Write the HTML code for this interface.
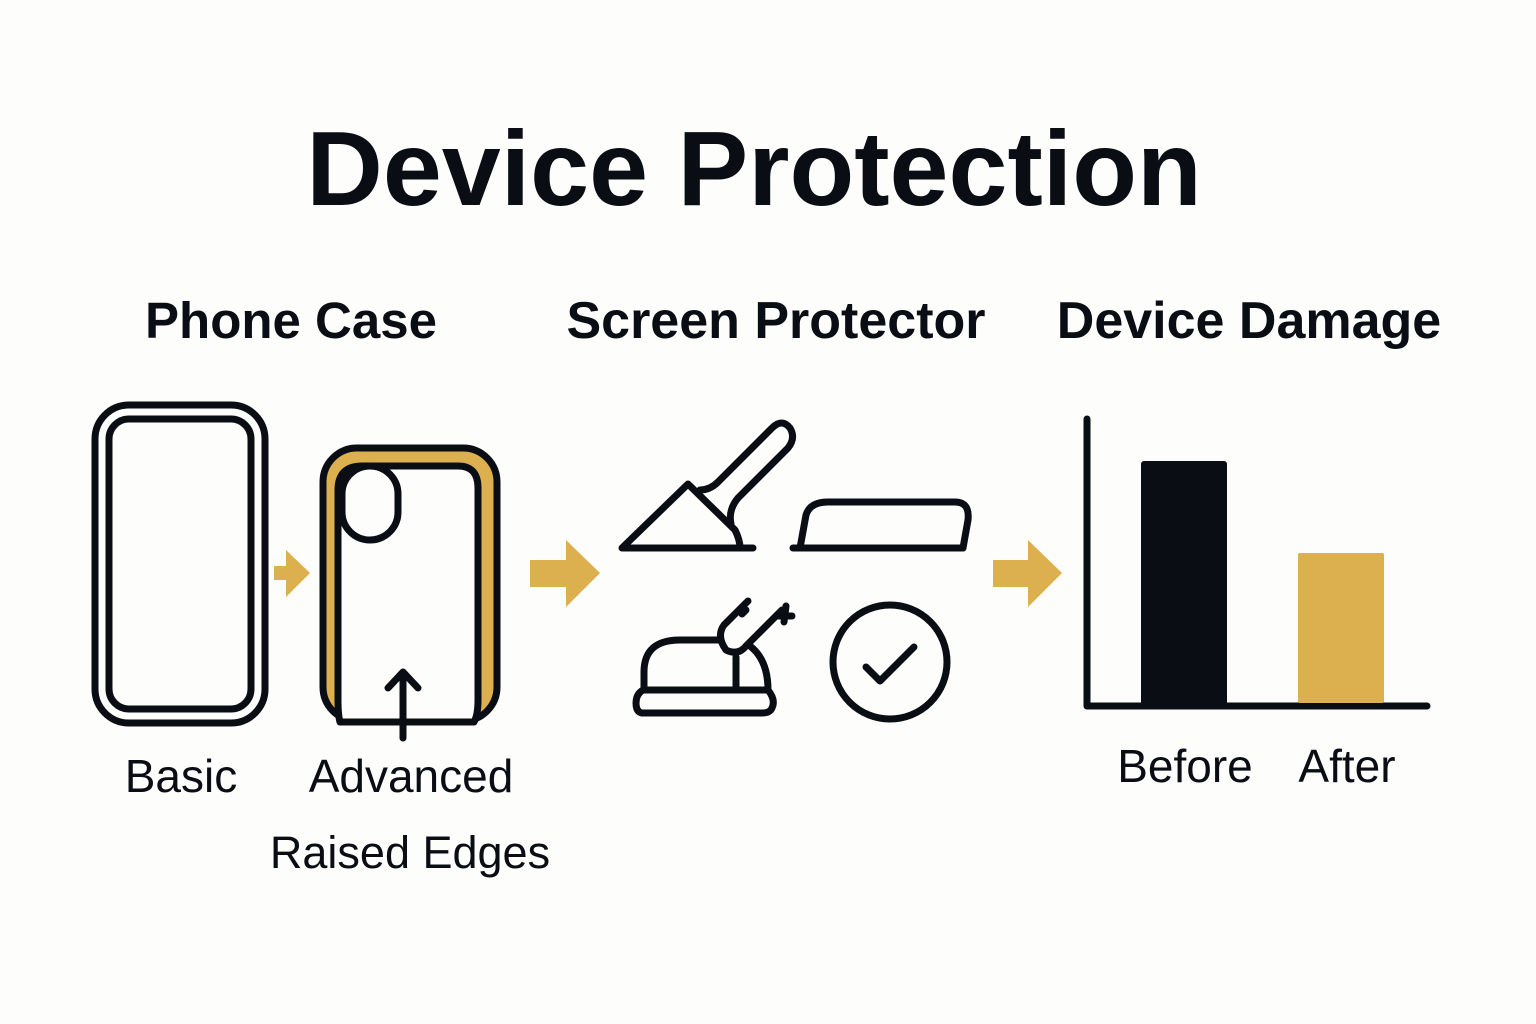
<!DOCTYPE html>
<html><head><meta charset="utf-8"><style>
html,body{margin:0;padding:0;background:#fdfdfc;}
svg{display:block}
text{font-family:"Liberation Sans",sans-serif;fill:#0a0e14}
</style></head><body>
<svg width="1536" height="1024" viewBox="0 0 1536 1024" xmlns="http://www.w3.org/2000/svg">
<rect width="1536" height="1024" fill="#fdfdfc"/>
<text x="754" y="205" font-size="106" font-weight="bold" text-anchor="middle">Device Protection</text>
<text x="291" y="338" font-size="51" font-weight="bold" text-anchor="middle">Phone Case</text>
<text x="776" y="338" font-size="52" font-weight="bold" text-anchor="middle">Screen Protector</text>
<text x="1249" y="338" font-size="52" font-weight="bold" text-anchor="middle">Device Damage</text>

<g fill="none" stroke="#0a0e14" stroke-width="7" stroke-linecap="round" stroke-linejoin="round">
<rect x="95" y="405" width="170" height="318" rx="34"/>
<rect x="109" y="419" width="142" height="290" rx="20"/>
<rect x="323" y="448" width="174" height="273" rx="34" fill="#ddb04f"/>
<path d="M340 722 Q338 715 338 700 L338 490 Q338 466 362 466 L458 466 Q478 466 478 488 L478 700 Q478 715 474 722 Z" fill="#fdfdfc"/>
<rect x="342" y="466" width="56" height="74" rx="28" fill="#fdfdfc"/>
<path d="M403 738 L403 672 M388 688 L403 672 L418 688"/>
<path d="M622 548 L688 484 L735 530 Q740 540 740 548 M622 548 L753 548"/>
<path d="M700 490 Q710 490 718 482 L772 428 Q782 418 790 428 Q796 438 788 448 L738 498 Q728 510 731 524"/>
<path d="M793 548 L963 548 L968 520 Q970 502 955 502 L828 502 Q810 502 806 515 L800 548"/>
<path d="M644 690 L644 672 Q644 640 680 640 L720 640"/>
<path d="M750 646 Q768 660 768 690 M736 657 L736 690 M643 690 L768 690 Q776 700 772 708 Q770 713 762 713 L642 713 Q636 712 636 703 Q636 694 643 690"/>
<path d="M724 625 L748 601 M724 625 Q716 636 726 650 Q738 656 746 646 L782 610 M778 616 L792 616 M786 606 L784 622 M742 614 L746 610"/>
<circle cx="890" cy="662" r="57"/>
<path d="M866 667 L880 681 L914 647"/>
<path d="M1087 419 L1087 706 L1427 706"/>
</g>
<rect x="1141" y="461" width="86" height="245" rx="3" fill="#0a0e14"/>
<rect x="1298" y="553" width="86" height="150" rx="2" fill="#ddb04f"/>
<g fill="#ddb04f">
<path d="M274 566 L286 566 L286 550 L310 573 L286 597 L286 580 L274 580 Z"/>
<path d="M530 560 L566 560 L566 540 L600 573 L566 607 L566 587 L530 587 Z"/>
<path d="M993 560 L1028 560 L1028 540 L1062 573 L1028 607 L1028 587 L993 587 Z"/>
</g>
<text x="181" y="792" font-size="46" text-anchor="middle">Basic</text>
<text x="411" y="792" font-size="46" text-anchor="middle">Advanced</text>
<text x="410" y="868" font-size="45" text-anchor="middle">Raised Edges</text>
<text x="1185" y="782" font-size="46" text-anchor="middle">Before</text>
<text x="1347" y="782" font-size="46" text-anchor="middle">After</text>
</svg>
</body></html>
